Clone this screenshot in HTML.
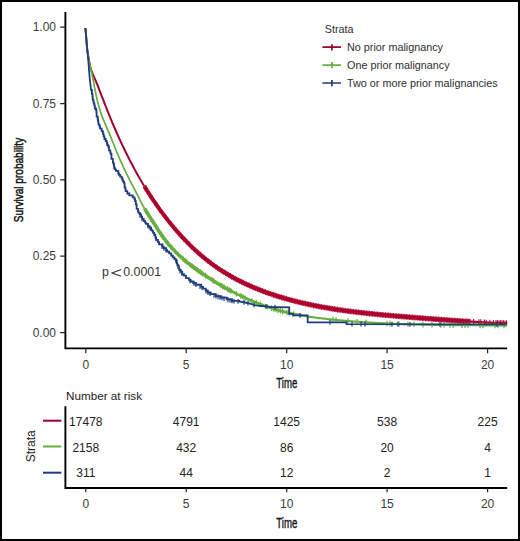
<!DOCTYPE html>
<html><head><meta charset="utf-8"><style>
html,body{margin:0;padding:0;background:#fff;}
svg{display:block;}
text{font-family:"Liberation Sans",sans-serif;}
</style></head><body>
<svg width="520" height="541" viewBox="0 0 520 541">
<rect x="1" y="1" width="518" height="539" fill="#fff" stroke="#000" stroke-width="2"/>
<!-- main plot axes -->
<g stroke="#000" stroke-width="1.9" fill="none" stroke-linecap="butt">
<path d="M65.4 11.9 V348.4 H507.2"/>
</g>
<g stroke="#222" stroke-width="1.2">
<path d="M60.2 27.2H65M60.2 103.6H65M60.2 179.9H65M60.2 256.2H65M60.2 332.6H65"/>
<path d="M85.8 348.4V353.2M186.2 348.4V353.2M286.7 348.4V353.2M387.1 348.4V353.2M487.6 348.4V353.2"/>
</g>
<g font-size="12" fill="#3c3c3c" text-anchor="end">
<text x="56" y="31.4">1.00</text>
<text x="56" y="107.8">0.75</text>
<text x="56" y="184.1">0.50</text>
<text x="56" y="260.4">0.25</text>
<text x="56" y="336.8">0.00</text>
</g>
<g font-size="12" fill="#3c3c3c" text-anchor="middle">
<text x="85.8" y="368.6">0</text>
<text x="186.2" y="368.6">5</text>
<text x="286.7" y="368.6">10</text>
<text x="387.1" y="368.6">15</text>
<text x="487.6" y="368.6">20</text>
</g>
<text font-size="14" fill="#111" stroke="#111" stroke-width="0.35" transform="translate(286.85,388.3) scale(0.69,1)" text-anchor="middle">Time</text>
<text font-size="13.5" fill="#111" stroke="#111" stroke-width="0.5" transform="translate(23.3,180) rotate(-90) scale(0.745,1)" text-anchor="middle">Survival probability</text>
<!-- legend -->
<text x="324.7" y="32.7" font-size="10.8" fill="#2e2e2e">Strata</text>
<g font-size="10.8" fill="#2e2e2e">
<text x="347" y="50.8">No prior malignancy</text>
<text x="347" y="68.7">One prior malignancy</text>
<text x="347" y="86.6">Two or more prior malignancies</text>
</g>
<g stroke-width="1.7">
<path d="M322.4 47.2H341M331.9 44.2V50.4" stroke="#A0002C"/>
<path d="M322.4 65.1H341M331.9 62.1V68.3" stroke="#66AE3E"/>
<path d="M322.4 83H341M331.9 80V86.2" stroke="#1F3C7C"/>
</g>
<g fill="#333" font-size="12.4"><text x="102" y="276.2">p</text><text x="123.2" y="276.2">0.0001</text></g><path d="M121.2 269.6L112 272.9L121.2 276.2" fill="none" stroke="#333" stroke-width="1.1"/>
<!-- CURVES -->
<g fill="none" stroke-linejoin="round" stroke-linecap="butt">
<path d="M144.50 186.48 L144.75 186.89 L145.51 188.12 L146.27 189.35 L147.03 190.57 L147.80 191.80 L148.58 193.02 L149.36 194.23 L150.15 195.45 L150.94 196.66 L151.74 197.87 L152.54 199.08 L153.35 200.28 L154.16 201.48 L154.98 202.68 L155.80 203.88 L156.63 205.07 L157.46 206.26 L158.30 207.44 L159.14 208.63 L159.99 209.81 L160.85 210.98 L161.71 212.16 L162.58 213.33 L163.45 214.50 L164.33 215.66 L165.21 216.82 L166.10 217.98 L167.00 219.13 L167.90 220.28 L168.80 221.43 L169.71 222.57 L170.63 223.70 L171.56 224.83 L172.49 225.96 L173.42 227.08 L174.36 228.20 L175.31 229.31 L176.26 230.42 L177.22 231.52 L178.18 232.62 L179.16 233.71 L180.13 234.80 L181.11 235.88 L182.10 236.95 L183.10 238.02 L184.10 239.08 L185.10 240.14 L186.11 241.19 L187.13 242.24 L188.16 243.27 L189.19 244.30 L190.22 245.33 L191.27 246.34 L192.31 247.35 L193.37 248.36 L194.43 249.35 L195.50 250.34 L196.57 251.32 L197.65 252.29 L198.73 253.26 L199.83 254.22 L200.92 255.17 L202.03 256.11 L203.14 257.04 L204.25 257.96 L205.38 258.88 L206.51 259.79 L207.64 260.69 L208.78 261.58 L209.93 262.46 L211.09 263.33 L212.25 264.19 L213.42 265.05 L214.59 265.89 L215.77 266.72 L216.96 267.55 L218.15 268.36 L219.35 269.17 L220.56 269.96 L221.77 270.75 L222.99 271.53 L224.21 272.29 L225.44 273.05 L226.68 273.80 L227.92 274.54 L229.17 275.27 L230.42 275.99 L231.68 276.71 L232.94 277.41 L234.21 278.10 L235.48 278.79 L236.76 279.47 L238.04 280.13 L239.33 280.79 L240.63 281.45 L241.92 282.09 L243.23 282.72 L244.53 283.35 L245.85 283.97 L247.16 284.58 L248.48 285.18 L249.81 285.77 L251.14 286.36 L252.47 286.93 L253.81 287.50 L255.15 288.06 L256.49 288.62 L257.84 289.16 L259.19 289.70 L260.54 290.23 L261.90 290.76 L263.26 291.27 L264.63 291.78 L265.99 292.28 L267.37 292.77 L268.74 293.26 L270.12 293.74 L271.49 294.21 L272.88 294.68 L274.26 295.14 L275.65 295.59 L277.04 296.03 L278.43 296.47 L279.82 296.90 L281.22 297.33 L282.62 297.75 L284.02 298.16 L285.42 298.56 L286.82 298.96 L288.22 299.35 L289.63 299.74 L291.04 300.12 L292.45 300.50 L293.86 300.86 L295.27 301.23 L296.68 301.58 L298.10 301.93 L299.51 302.28 L300.93 302.62 L302.35 302.95 L303.76 303.28 L305.18 303.60 L306.60 303.92 L308.02 304.23 L309.44 304.53 L310.86 304.83 L312.28 305.13 L313.71 305.42 L315.13 305.71 L316.55 305.99 L317.98 306.26 L319.40 306.54 L320.83 306.80 L322.25 307.06 L323.68 307.32 L325.11 307.57 L326.53 307.82 L327.96 308.07 L329.39 308.31 L330.82 308.54 L332.25 308.77 L333.68 309.00 L335.11 309.22 L336.55 309.44 L337.98 309.66 L339.41 309.87 L340.85 310.08 L342.28 310.29 L343.71 310.49 L345.15 310.68 L346.59 310.88 L348.02 311.07 L349.46 311.26 L350.90 311.44 L352.33 311.62 L353.77 311.80 L355.21 311.98 L356.65 312.15 L358.09 312.32 L359.53 312.49 L360.97 312.65 L362.41 312.82 L363.85 312.98 L365.29 313.13 L366.73 313.29 L368.18 313.44 L369.62 313.59 L371.06 313.74 L372.50 313.88 L373.95 314.03 L375.39 314.17 L376.84 314.31 L378.28 314.45 L379.73 314.59 L381.17 314.72 L382.62 314.86 L384.06 314.99 L385.51 315.12 L386.96 315.25 L388.40 315.38 L389.85 315.50 L391.30 315.63 L392.75 315.75 L394.19 315.88 L395.64 316.00 L397.09 316.12 L398.54 316.24 L399.99 316.36 L401.44 316.48 L402.89 316.60 L404.34 316.72 L405.79 316.84 L407.23 316.96 L408.68 317.08 L410.14 317.20 L411.59 317.31 L413.04 317.43 L414.49 317.55 L415.94 317.67 L417.39 317.78 L418.84 317.90 L420.29 318.01 L421.74 318.13 L423.19 318.24 L424.65 318.36 L426.10 318.47 L427.55 318.59 L429.00 318.70 L430.45 318.81 L431.90 318.92 L433.36 319.03 L434.81 319.15 L436.26 319.26 L437.71 319.36 L439.16 319.47 L440.62 319.58 L442.07 319.69 L443.52 319.79 L444.97 319.90 L446.42 320.00 L447.88 320.11 L449.33 320.21 L450.78 320.31 L452.23 320.41 L453.68 320.51 L455.14 320.61 L456.59 320.71 L458.04 320.81 L459.49 320.90 L460.94 321.00 L462.39 321.09 L463.85 321.18 L465.30 321.27 L466.75 321.36 L468.20 321.45 L469.65 321.54" stroke="#AE002E" stroke-width="4.0"/>
<path d="M468.20 321.45 L469.65 321.54 L471.10 321.63 L472.55 321.71 L474.00 321.80 L475.45 321.88 L476.90 321.96 L478.35 322.04 L479.80 322.12 L481.25 322.19 L482.70 322.27 L484.15 322.34 L485.60 322.41 L487.05 322.49 L488.49 322.55 L489.94 322.62 L491.39 322.69 L492.84 322.75 L494.29 322.82 L495.73 322.88 L497.18 322.94 L498.63 322.99 L500.07 323.05 L501.52 323.10 L502.96 323.15 L504.41 323.21 L505.85 323.25 L507.30 323.30" stroke="#AE002E" stroke-width="2.2"/>
<path d="M145.50 185.31V190.91M147.10 187.88V193.48M148.70 190.40V196.00M150.30 192.88V198.48M151.90 195.32V200.92M153.50 197.71V203.31M155.10 200.06V205.66M156.70 202.37V207.97M158.30 204.65V210.25M159.90 206.88V212.48M161.50 209.07V214.67M163.10 211.23V216.83M164.70 213.35V218.95M166.30 215.44V221.04M167.90 217.49V223.09M169.50 219.50V225.10M171.10 221.47V227.07M172.70 223.42V229.02M174.30 225.33V230.93M175.90 227.20V232.80M177.50 229.04V234.64M179.10 230.85V236.45M180.70 232.62V238.22M182.30 234.37V239.97M183.90 236.08V241.68M185.50 237.75V243.35M187.10 239.40V245.00M188.70 241.02V246.62M190.30 242.60V248.20M191.90 244.16V249.76M193.50 245.68V251.28M195.10 247.17V252.77M196.70 248.64V254.24M198.30 250.07V255.67M199.90 251.48V257.08M201.50 252.86V258.46M203.10 254.21V259.81M204.70 255.53V261.13M206.30 256.82V262.42M207.90 258.09V263.69M209.50 259.33V264.93M211.10 260.54V266.14M212.70 261.72V267.32M214.30 262.88V268.48M215.90 264.01V269.61M217.50 265.12V270.72M219.10 266.20V271.80M220.70 267.26V272.86M222.30 268.29V273.89M223.90 269.30V274.90M225.50 270.29V275.89M227.10 271.25V276.85M228.70 272.20V277.80M230.30 273.12V278.72M231.90 274.03V279.63M233.50 274.92V280.52M235.10 275.78V281.38M236.70 276.63V282.23M238.30 277.47V283.07M239.90 278.28V283.88M241.50 279.08V284.68M243.10 279.86V285.46M244.70 280.63V286.23M246.30 281.38V286.98M247.90 282.11V287.71M249.50 282.83V288.43M251.10 283.54V289.14M252.70 284.23V289.83M254.30 284.91V290.51M255.90 285.57V291.17M257.50 286.23V291.83M259.10 286.87V292.47M260.70 287.49V293.09M262.30 288.11V293.71M263.90 288.71V294.31M265.50 289.30V294.90M267.10 289.88V295.48M268.70 290.45V296.05M270.30 291.00V296.60M271.90 291.55V297.15M273.50 292.08V297.68M275.10 292.61V298.21M276.70 293.13V298.73M278.30 293.63V299.23M279.90 294.13V299.73M281.50 294.61V300.21M283.10 295.09V300.69M284.70 295.56V301.16M286.30 296.01V301.61M287.90 296.46V302.06M289.50 296.90V302.50M291.10 297.34V302.94M292.70 297.76V303.36M294.30 298.18V303.78M295.90 298.58V304.18M297.50 298.98V304.58M299.10 299.38V304.98M300.70 299.76V305.36M302.30 300.14V305.74M303.90 300.51V306.11M305.50 300.87V306.47M307.10 301.23V306.83M308.70 301.57V307.17M310.30 301.92V307.52M311.90 302.25V307.85M313.50 302.58V308.18M315.10 302.90V308.50M316.70 303.22V308.82M318.30 303.53V309.13M319.90 303.83V309.43M321.50 304.13V309.73M323.10 304.42V310.02M324.70 304.70V310.30M326.30 304.98V310.58M327.90 305.26V310.86M329.50 305.52V311.12M331.10 305.79V311.39M332.70 306.04V311.64M334.30 306.30V311.90M335.90 306.54V312.14M337.50 306.79V312.39M339.10 307.03V312.63M340.70 307.26V312.86M342.30 307.49V313.09M343.90 307.71V313.31M345.50 307.93V313.53M347.10 308.15V313.75M348.70 308.36V313.96M350.30 308.57V314.17M351.90 308.77V314.37M353.50 308.97V314.57M355.10 309.17V314.77M356.70 309.36V314.96M358.30 309.55V315.15M359.90 309.73V315.33M361.50 309.91V315.51M363.10 310.09V315.69M364.70 310.27V315.87M366.30 310.44V316.04M367.90 310.61V316.21M369.50 310.78V316.38M371.10 310.94V316.54M372.70 311.10V316.70M374.30 311.26V316.86M375.90 311.42V317.02M377.50 311.57V317.17M379.10 311.73V317.33M380.70 311.88V317.48M382.30 312.03V317.63M383.90 312.17V317.77M385.50 312.32V317.92M387.10 312.46V318.06M388.70 312.60V318.20M390.30 312.74V318.34M391.90 312.88V318.48M393.50 313.02V318.62M395.10 313.15V318.75M396.70 313.29V318.89M398.30 313.42V319.02M399.90 313.56V319.16M401.50 313.69V319.29M403.10 313.82V319.42M404.70 313.95V319.55M406.30 314.08V319.68M407.90 314.21V319.81M409.50 314.34V319.94M411.10 314.47V320.07M412.70 314.60V320.20M414.30 314.73V320.33M415.90 314.86V320.46M417.50 314.99V320.59M419.10 315.12V320.72M420.70 315.25V320.85M422.30 315.37V320.97M423.90 315.50V321.10M425.50 315.63V321.23M427.10 315.75V321.35M428.70 315.88V321.48M430.30 316.00V321.60M431.90 316.12V321.72M433.50 316.25V321.85M435.10 316.37V321.97M436.70 316.49V322.09M438.30 316.61V322.21M439.90 316.73V322.33M441.50 316.85V322.45M443.10 316.96V322.56M444.70 317.08V322.68M446.30 317.19V322.79M447.90 317.31V322.91M449.50 317.42V323.02M451.10 317.53V323.13M452.70 317.64V323.24M454.30 317.75V323.35M455.90 317.86V323.46M457.50 317.97V323.57M459.10 318.08V323.68M460.70 318.18V323.78M462.30 318.28V323.88M463.90 318.39V323.99M465.50 318.49V324.09M467.10 318.59V324.19M468.70 318.68V324.28M470.00 318.76V324.36M473.60 318.97V324.57M479.00 319.27V324.87M480.80 319.37V324.97M484.40 319.56V325.16M486.20 319.64V325.24M489.80 319.82V325.42M493.40 319.98V325.58M496.00 320.09V325.69M497.50 320.15V325.75M499.00 320.21V325.81M500.50 320.26V325.86M502.00 320.32V325.92M503.50 320.37V325.97M505.00 320.42V326.02M506.50 320.47V326.07" stroke="#AE002E" stroke-width="1.1"/>
<path d="M85.40 28.00 L85.57 29.45 L85.71 30.90 L85.84 32.35 L85.96 33.80 L86.07 35.24 L86.17 36.69 L86.27 38.14 L86.37 39.59 L86.47 41.03 L86.57 42.48 L86.68 43.92 L86.81 45.37 L86.94 46.81 L87.10 48.25 L87.27 49.69 L87.47 51.14 L87.68 52.58 L87.91 54.02 L88.14 55.46 L88.39 56.89 L88.63 58.33 L88.87 59.76 L89.13 61.20 L89.39 62.62 L89.68 64.04 L89.99 65.46 L90.33 66.86 L90.71 68.26 L91.13 69.64 L91.58 71.02 L92.08 72.38 L92.61 73.73 L93.17 75.08 L93.76 76.42 L94.36 77.76 L94.96 79.09 L95.55 80.42 L96.12 81.76 L96.68 83.10 L97.23 84.44 L97.77 85.78 L98.30 87.13 L98.82 88.47 L99.34 89.82 L99.86 91.17 L100.39 92.53 L100.91 93.88 L101.43 95.24 L101.95 96.60 L102.48 97.96 L103.00 99.31 L103.53 100.67 L104.05 102.03 L104.58 103.39 L105.11 104.75 L105.64 106.11 L106.18 107.47 L106.72 108.83 L107.25 110.19 L107.79 111.54 L108.34 112.90 L108.88 114.25 L109.43 115.60 L109.98 116.95 L110.54 118.29 L111.09 119.64 L111.65 120.98 L112.22 122.33 L112.78 123.67 L113.35 125.00 L113.92 126.34 L114.49 127.68 L115.07 129.01 L115.65 130.34 L116.23 131.67 L116.82 133.00 L117.41 134.33 L118.00 135.65 L118.59 136.97 L119.19 138.30 L119.80 139.61 L120.40 140.93 L121.01 142.25 L121.62 143.56 L122.24 144.87 L122.86 146.18 L123.48 147.49 L124.10 148.79 L124.73 150.09 L125.37 151.39 L126.00 152.69 L126.65 153.99 L127.29 155.28 L127.94 156.58 L128.59 157.87 L129.25 159.15 L129.91 160.44 L130.57 161.72 L131.24 163.00 L131.91 164.28 L132.59 165.56 L133.27 166.83 L133.95 168.10 L134.64 169.37 L135.33 170.64 L136.03 171.91 L136.73 173.17 L137.44 174.43 L138.15 175.68 L138.86 176.94 L139.58 178.19 L140.31 179.44 L141.04 180.69 L141.77 181.93 L142.51 183.18 L143.25 184.41 L144.00 185.65 L144.50 186.48" stroke="#A0002C" stroke-width="2.0"/>
<path d="M144.50 208.47 L144.60 208.64 L145.35 209.93 L146.13 211.21 L146.91 212.49 L147.72 213.77 L148.53 215.05 L149.36 216.32 L150.19 217.59 L151.02 218.86 L151.86 220.13 L152.69 221.39 L153.52 222.65 L154.34 223.90 L155.15 225.15 L155.95 226.40 L156.74 227.64 L157.52 228.88 L158.30 230.11 L159.09 231.34 L159.89 232.56 L160.70 233.77 L161.53 234.98 L162.38 236.19 L163.25 237.38 L164.13 238.57 L165.02 239.76 L165.93 240.93 L166.86 242.10 L167.80 243.25 L168.76 244.40 L169.73 245.54 L170.72 246.66 L171.71 247.78 L172.72 248.89 L173.75 249.98 L174.78 251.06 L175.83 252.13 L176.89 253.19 L177.96 254.23 L179.04 255.26 L180.13 256.28 L181.24 257.28 L182.35 258.27 L183.47 259.24 L184.60 260.21 L185.74 261.16 L186.89 262.10 L188.04 263.03 L189.21 263.95 L190.38 264.86 L191.55 265.76 L192.74 266.65 L193.93 267.53 L195.12 268.41 L196.33 269.28 L197.53 270.14 L198.74 271.00 L199.96 271.85 L201.18 272.69 L202.41 273.54 L203.63 274.37 L204.87 275.20 L206.10 276.03 L207.34 276.85 L208.59 277.67 L209.83 278.48 L211.09 279.28 L212.34 280.08 L213.60 280.87 L214.87 281.66 L216.13 282.44 L217.40 283.21 L218.68 283.98 L219.96 284.74 L221.24 285.50 L222.53 286.24 L223.82 286.98 L225.12 287.72 L226.42 288.44 L227.72 289.16 L229.03 289.88 L230.34 290.58 L231.65 291.28" stroke="#66AE3E" stroke-width="3.5"/>
<path d="M230.34 290.58 L231.65 291.28 L232.97 291.97 L234.29 292.66 L235.62 293.33 L236.95 294.00 L238.29 294.66 L239.62 295.31 L240.97 295.96 L242.31 296.60 L243.66 297.23 L245.02 297.85 L246.37 298.46 L247.74 299.07 L249.10 299.67 L250.47 300.26 L251.84 300.84 L253.22 301.42 L254.60 301.98 L255.99 302.54 L257.37 303.09 L258.77 303.63 L260.16 304.16 L261.56 304.68 L262.96 305.20 L264.36 305.70 L265.77 306.20 L267.18 306.69 L268.60 307.16 L270.01 307.63 L271.43 308.09 L272.85 308.54 L274.28 308.98 L275.71 309.41 L277.14 309.83 L278.57 310.25 L280.01 310.65 L281.44 311.04 L282.88 311.42 L284.33 311.79 L285.77 312.15 L287.22 312.50 L288.67 312.85 L290.12 313.18 L291.57 313.50 L293.03 313.81 L294.48 314.11 L295.94 314.41 L297.40 314.69 L298.86 314.97 L300.33 315.24 L301.79 315.50" stroke="#66AE3E" stroke-width="2.8"/>
<path d="M300.33 315.24 L301.79 315.50 L303.26 315.75 L304.73 316.00 L306.20 316.24 L307.67 316.47 L309.14 316.69 L310.61 316.91 L312.09 317.13 L313.56 317.33 L315.04 317.53 L316.51 317.73 L317.99 317.92 L319.47 318.11 L320.95 318.29 L322.43 318.47 L323.91 318.64 L325.39 318.81 L326.87 318.97 L328.35 319.14 L329.83 319.30 L331.32 319.45 L332.80 319.61 L334.28 319.76 L335.76 319.90 L337.25 320.05 L338.73 320.19 L340.21 320.33 L341.70 320.47 L343.18 320.60 L344.66 320.73 L346.15 320.86 L347.63 320.98 L349.12 321.11 L350.60 321.23 L352.09 321.35 L353.57 321.46 L355.06 321.58 L356.55 321.69 L358.03 321.80 L359.52 321.90 L361.00 322.00 L362.49 322.11 L363.98 322.21 L365.46 322.30 L366.95 322.40 L368.44 322.49 L369.93 322.58 L371.41 322.67 L372.90 322.75 L374.39 322.84 L375.88 322.92 L377.36 323.00 L378.85 323.08 L380.34 323.15 L381.83 323.23 L383.32 323.30 L384.81 323.37 L386.30 323.44 L387.79 323.50 L389.28 323.57 L390.76 323.63 L392.25 323.69 L393.74 323.75 L395.23 323.81 L396.72 323.87 L398.21 323.92 L399.70 323.97 L401.19 324.03 L402.68 324.08 L404.17 324.12 L405.66 324.17 L407.15 324.22 L408.64 324.26 L410.13 324.30 L411.63 324.35 L413.12 324.39 L414.61 324.43 L416.10 324.46 L417.59 324.50 L419.08 324.53 L420.57 324.57 L422.06 324.60 L423.55 324.63 L425.04 324.67 L426.53 324.70 L428.02 324.72 L429.52 324.75 L431.01 324.78 L432.50 324.81 L433.99 324.83 L435.48 324.85 L436.97 324.88 L438.46 324.90 L439.95 324.92 L441.45 324.94 L442.94 324.96 L444.43 324.98 L445.92 325.00 L447.41 325.02 L448.90 325.04 L450.39 325.06 L451.88 325.07 L453.37 325.09 L454.86 325.11 L456.36 325.12 L457.85 325.14 L459.34 325.15 L460.83 325.17 L462.32 325.18 L463.81 325.19 L465.30 325.21 L466.79 325.22 L468.28 325.23 L469.77 325.25 L471.26 325.26 L472.75 325.27 L474.24 325.28 L475.73 325.30 L477.22 325.31 L478.71 325.32 L480.20 325.33 L481.69 325.35 L483.18 325.36 L484.67 325.37 L486.16 325.39 L487.65 325.40 L489.14 325.41 L490.63 325.43 L492.12 325.44 L493.61 325.45 L495.10 325.47 L496.58 325.48 L498.07 325.50 L499.56 325.51 L501.05 325.53 L502.54 325.55 L504.02 325.56 L505.51 325.58 L507.00 325.60" stroke="#66AE3E" stroke-width="2.1"/>
<path d="M146.00 208.20V213.80M147.70 210.94V216.54M151.10 216.18V221.78M152.80 218.76V224.36M154.50 221.35V226.95M156.20 223.99V229.59M157.90 226.67V232.27M159.60 229.32V234.92M161.30 231.84V237.44M163.00 234.24V239.84M166.40 238.71V244.31M168.10 240.81V246.41M171.50 244.74V250.34M174.90 248.38V253.98M178.30 251.75V257.35M183.40 256.38V261.98M185.10 257.82V263.42M186.80 259.23V264.83M190.20 261.92V267.52M191.90 263.22V268.82M193.60 264.49V270.09M195.30 265.74V271.34M197.00 266.96V272.56M198.70 268.17V273.77M200.40 269.35V274.95M202.10 270.53V276.13M205.50 272.83V278.43M212.30 277.25V282.85M214.00 278.32V283.92M220.80 282.43V288.03M222.50 283.43V289.03M224.20 284.40V290.00M227.60 286.30V291.90M229.30 287.22V292.82M231.00 288.13V293.73M236.40 290.92V296.52M240.80 293.08V298.68M243.00 294.12V299.72M245.20 295.13V300.73M251.80 298.02V303.62M256.20 299.82V305.42M260.60 301.53V307.13M267.20 303.89V309.49M271.60 305.35V310.95M273.80 306.03V311.63M276.00 306.70V312.30M278.20 307.34V312.94M280.40 307.95V313.55M282.60 308.55V314.15M287.00 309.65V315.25M289.20 310.17V315.77M293.60 311.13V316.73M333.00 316.83V322.43M336.00 317.13V322.73M348.00 318.22V323.82M357.00 318.92V324.52M366.00 319.54V325.14M387.00 320.67V326.27M390.00 320.80V326.40M399.00 321.15V326.75M408.00 321.44V327.04M414.00 321.61V327.21M423.00 321.82V327.42M432.00 322.00V327.60M441.00 322.14V327.74M444.00 322.18V327.78M450.00 322.25V327.85M453.00 322.29V327.89M462.00 322.38V327.98M465.00 322.40V328.00M468.00 322.43V328.03M480.00 322.53V328.13M483.00 322.56V328.16M495.00 322.67V328.27M498.00 322.70V328.30M504.00 322.76V328.36" stroke="#66AE3E" stroke-width="1.2"/>
<path d="M85.40 28.00 L85.56 29.49 L85.71 30.97 L85.84 32.46 L85.96 33.95 L86.08 35.44 L86.18 36.92 L86.29 38.41 L86.39 39.89 L86.50 41.38 L86.61 42.86 L86.73 44.34 L86.86 45.83 L87.00 47.31 L87.16 48.78 L87.34 50.26 L87.54 51.74 L87.76 53.21 L87.99 54.68 L88.24 56.16 L88.49 57.62 L88.76 59.09 L89.04 60.56 L89.33 62.02 L89.63 63.48 L89.95 64.94 L90.27 66.40 L90.61 67.86 L90.94 69.31 L91.28 70.76 L91.61 72.22 L91.93 73.67 L92.24 75.13 L92.54 76.58 L92.82 78.04 L93.10 79.50 L93.38 80.96 L93.65 82.42 L93.93 83.89 L94.21 85.35 L94.49 86.82 L94.77 88.28 L95.05 89.75 L95.34 91.21 L95.64 92.68 L95.94 94.14 L96.25 95.61 L96.57 97.07 L96.89 98.53 L97.23 99.99 L97.58 101.44 L97.94 102.90 L98.31 104.35 L98.70 105.80 L99.10 107.24 L99.52 108.68 L99.95 110.11 L100.40 111.54 L100.87 112.97 L101.36 114.39 L101.87 115.81 L102.40 117.21 L102.94 118.62 L103.50 120.02 L104.07 121.41 L104.66 122.80 L105.25 124.19 L105.85 125.57 L106.45 126.95 L107.05 128.32 L107.65 129.70 L108.24 131.06 L108.83 132.43 L109.42 133.80 L109.99 135.16 L110.55 136.52 L111.09 137.88 L111.64 139.24 L112.17 140.60 L112.70 141.95 L113.24 143.31 L113.77 144.67 L114.31 146.03 L114.86 147.38 L115.41 148.74 L115.97 150.10 L116.53 151.46 L117.10 152.82 L117.68 154.18 L118.26 155.53 L118.84 156.89 L119.43 158.25 L120.02 159.61 L120.62 160.96 L121.23 162.32 L121.83 163.67 L122.44 165.02 L123.06 166.38 L123.68 167.73 L124.31 169.08 L124.94 170.43 L125.58 171.77 L126.23 173.12 L126.88 174.46 L127.54 175.81 L128.21 177.15 L128.88 178.49 L129.57 179.82 L130.26 181.16 L130.97 182.49 L131.67 183.82 L132.38 185.15 L133.08 186.47 L133.78 187.80 L134.46 189.12 L135.14 190.44 L135.80 191.75 L136.46 193.06 L137.12 194.37 L137.77 195.68 L138.43 196.99 L139.08 198.29 L139.74 199.59 L140.40 200.89 L141.07 202.19 L141.75 203.48 L142.44 204.77 L143.15 206.07 L143.87 207.35 L144.50 208.47" stroke="#66AE3E" stroke-width="1.7"/>
<path d="M85.40 28.00 L86.40 40.00 L87.30 50.00 L88.30 60.00 L89.00 70.00 L89.90 80.00 L91.10 90.00 L91.91 90.00 L91.91 92.35 L91.91 92.35 L91.91 93.89 L92.49 93.89 L92.49 96.24 L92.66 96.24 L92.66 98.59 L92.91 98.59 L92.91 100.05 L93.47 100.05 L93.47 102.39 L94.05 102.39 L94.05 104.14 L94.50 104.14 L94.50 105.98 L94.88 105.98 L94.88 108.48 L95.99 108.48 L95.99 109.78 L96.40 109.78 L96.40 112.23 L96.62 112.23 L96.62 114.09 L96.62 114.09 L96.62 116.60 L97.72 116.60 L97.72 118.87 L98.01 118.87 L98.01 121.03 L98.30 121.03 L98.30 122.71 L98.47 122.71 L98.47 124.30 L99.42 124.30 L99.42 126.37 L100.10 126.37 L100.10 128.72 L101.71 128.72 L101.71 131.19 L102.89 131.19 L102.89 133.70 L103.58 133.70 L103.58 136.16 L104.31 136.16 L104.31 137.48 L104.52 137.48 L104.52 139.01 L105.68 139.01 L105.68 141.17 L106.88 141.17 L106.88 143.01 L107.18 143.01 L107.18 145.10 L108.32 145.10 L108.32 146.73 L108.97 146.73 L108.97 148.65 L109.02 148.65 L109.02 150.41 L110.25 150.41 L110.25 152.40 L110.69 152.40 L110.69 153.92 L111.46 153.92 L111.46 156.42 L111.46 156.42 L111.46 158.79 L112.88 158.79 L112.88 160.91 L112.88 160.91 L112.88 162.28 L113.45 162.28 L113.45 163.92 L113.95 163.92 L113.95 165.77 L114.18 165.77 L114.18 168.08 L115.01 168.08 L115.01 169.46 L115.84 169.46 L115.84 170.92 L118.26 170.92 L118.26 173.48 L119.01 173.48 L119.01 174.90 L120.16 174.90 L120.16 176.61 L121.68 176.61 L121.68 178.36 L122.44 178.36 L122.44 180.43 L123.20 180.43 L123.20 181.97 L124.17 181.97 L124.17 183.44 L124.59 183.44 L124.59 185.67 L124.59 185.67 L124.59 187.07 L125.26 187.07 L125.26 188.86 L125.64 188.86 L125.64 191.17 L127.33 191.17 L127.33 193.51 L129.34 193.51 L129.34 195.38 L132.72 195.38 L132.72 197.32 L134.49 197.32 L134.49 199.17 L135.04 199.17 L135.04 201.07 L135.85 201.07 L135.85 203.06 L135.85 203.06 L135.85 204.46 L136.62 204.46 L136.62 206.31 L136.62 206.31 L136.62 208.83 L137.94 208.83 L137.94 211.29 L138.57 211.29 L138.57 212.94 L139.76 212.94 L139.76 214.40 L141.09 214.40 L141.09 216.56 L142.22 216.56 L142.22 218.89 L143.81 218.89 L143.81 221.14 L145.16 221.14 L145.16 222.57 L145.92 222.57 L145.92 223.88 L147.94 223.88 L147.94 226.19 L149.30 226.19 L149.30 227.61 L151.10 227.61 L151.10 230.05 L152.42 230.05 L152.42 231.38 L153.14 231.38 L153.14 232.84 L154.20 232.84 L154.20 235.01 L155.31 235.01 L155.31 237.55 L156.16 237.55 L156.16 239.89 L158.01 239.89 L158.01 242.19 L159.06 242.19 L159.06 244.42 L162.50 244.42 L162.50 246.69 L163.47 246.69 L163.47 248.07 L166.23 248.07 L166.23 250.11 L167.17 250.11 L167.17 251.72 L169.20 251.72 L169.20 253.34 L171.22 253.34 L171.22 255.62 L172.84 255.62 L172.84 257.40 L174.45 257.40 L174.45 259.16 L175.81 259.16 L175.81 260.57 L176.82 260.57 L176.82 263.13 L177.33 263.13 L177.33 265.40 L178.66 265.40 L178.66 267.60 L179.14 267.60 L179.14 269.78 L180.72 269.78 L180.72 271.71 L182.21 271.71 L182.21 274.17 L183.95 274.17 L183.95 275.60 L185.97 275.60 L185.97 278.09 L188.87 278.09 L188.87 279.96 L190.63 279.96 L190.63 281.51 L193.21 281.51 L193.21 283.07 L196.19 283.07 L196.19 284.77 L201.20 284.77 L201.20 286.97 L203.13 286.97 L203.13 288.66 L205.64 288.66 L205.64 290.49 L207.70 290.49 L207.70 292.55 L210.76 292.55 L210.76 294.14 L215.75 294.14 L215.75 296.06 L220.64 296.06 L220.64 297.58 L226.76 297.58 L226.76 299.30 L231.96 299.30 L231.96 300.79 L239.20 300.79 L239.20 301.50 L247.70 303.00 L255.40 305.40 L270.80 307.00 L289.20 307.40 L289.20 313.80 L293.00 313.80 L293.00 315.40 L307.70 315.40 L307.70 322.30 L346.50 322.30 L346.50 324.20 L506.20 324.40" stroke="#1F3C7C" stroke-width="1.8" stroke-linejoin="miter"/>
<path d="M140.00 212.94V217.74M142.00 216.39V221.19M148.00 223.36V228.16M150.00 225.53V230.33M156.00 236.44V241.24M162.00 244.24V249.04M164.00 245.98V250.78M166.00 247.81V252.61M176.00 258.38V263.18M178.00 264.00V268.80M180.00 268.59V273.39M182.00 271.08V275.88M190.00 278.51V283.31M194.00 281.11V285.91M196.00 282.14V286.94M200.00 284.19V288.99M202.00 285.54V290.34M206.00 288.65V293.45M208.00 290.21V295.01M210.00 291.22V296.02M214.00 292.89V297.69M216.00 293.72V298.52M218.00 294.34V299.14M220.00 294.95V299.75M222.00 295.56V300.36M224.00 296.16V300.96M228.00 297.35V302.15M230.00 297.95V302.75M232.00 298.45V303.25M234.00 298.63V303.43M238.00 298.99V303.79M244.00 299.95V304.75M248.00 300.69V305.49M254.00 302.56V307.36M266.00 304.10V308.90M275.00 304.69V309.49M300.00 313.00V317.80M330.00 319.90V324.70M352.00 321.81V326.61M361.00 321.82V326.62M365.00 321.82V326.62M392.00 321.86V326.66M398.00 321.86V326.66M410.00 321.88V326.68M440.00 321.92V326.72M497.00 321.99V326.79" stroke="#1F3C7C" stroke-width="1.2"/>
</g>
<!-- risk table -->
<text x="66" y="400.2" font-size="11.7" fill="#222">Number at risk</text>
<g stroke="#000" stroke-width="1.9" fill="none">
<path d="M65.4 406.2 V488 H507.2"/>
</g>
<g stroke="#222" stroke-width="1.2">
<path d="M85.8 488V492.2M186.2 488V492.2M286.7 488V492.2M387.1 488V492.2M487.6 488V492.2"/>
</g>
<g font-size="12" fill="#3c3c3c" text-anchor="middle">
<text x="85.8" y="508.2">0</text>
<text x="186.2" y="508.2">5</text>
<text x="286.7" y="508.2">10</text>
<text x="387.1" y="508.2">15</text>
<text x="487.6" y="508.2">20</text>
</g>
<text font-size="14" fill="#111" stroke="#111" stroke-width="0.35" transform="translate(286.85,528.3) scale(0.69,1)" text-anchor="middle">Time</text>
<text font-size="12" fill="#222" transform="translate(35,446.3) rotate(-90)" text-anchor="middle">Strata</text>
<g stroke-width="2">
<path d="M43 420.7H61.3" stroke="#A0002C"/>
<path d="M43 446.5H61.3" stroke="#66AE3E"/>
<path d="M43 472.7H61.3" stroke="#1F3C7C"/>
</g>
<g font-size="12" fill="#222" text-anchor="middle">
<text x="85.8" y="426">17478</text>
<text x="186.2" y="426">4791</text>
<text x="286.7" y="426">1425</text>
<text x="387.1" y="426">538</text>
<text x="487.6" y="426">225</text>
<text x="85.8" y="452">2158</text>
<text x="186.2" y="452">432</text>
<text x="286.7" y="452">86</text>
<text x="387.1" y="452">20</text>
<text x="487.6" y="452">4</text>
<text x="85.8" y="476.8">311</text>
<text x="186.2" y="476.8">44</text>
<text x="286.7" y="476.8">12</text>
<text x="387.1" y="476.8">2</text>
<text x="487.6" y="476.8">1</text>
</g>
</svg>
</body></html>
